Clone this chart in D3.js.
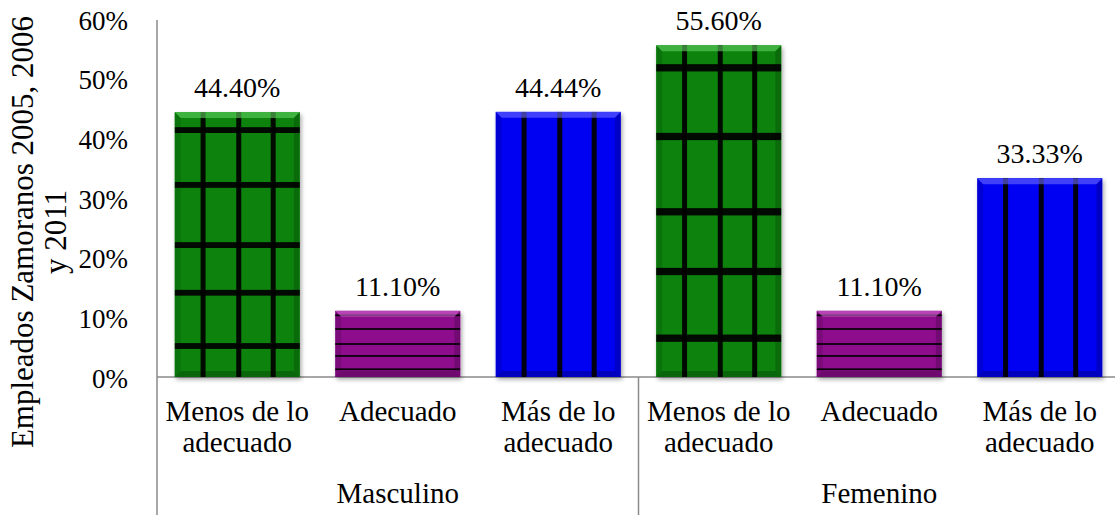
<!DOCTYPE html>
<html>
<head>
<meta charset="utf-8">
<script src="https://cdn.jsdelivr.net/npm/d3@7/dist/d3.min.js"></script>
<style>
  html, body { margin: 0; padding: 0; background: #ffffff; }
  svg { display: block; }
  svg text { fill: #000; }
</style>
</head>
<body>
<svg id="chart" width="1115" height="515"></svg>
<script>
// Employment satisfaction by gender (share of employees)
const groups = ["Masculino", "Femenino"];
const categories = ["Menos de lo adecuado", "Adecuado", "Más de lo adecuado"];
const categoryLines = [["Menos de lo", "adecuado"], ["Adecuado"], ["Más de lo", "adecuado"]];
const valuesMasculino = [0.444, 0.111, 0.4444];
const valuesFemenino = [0.556, 0.111, 0.3333];
const yTicks = [0, 0.1, 0.2, 0.3, 0.4, 0.5, 0.6];
const yTitleLines = ["Empleados Zamoranos 2005, 2006", "y 2011"];

const seriesByGroup = { "Masculino": valuesMasculino, "Femenino": valuesFemenino };
const serifFont = "Tinos, 'Liberation Serif', 'Nimbus Roman', 'Noto Serif', 'DejaVu Serif', 'Times New Roman', Times, serif";

// Bar styling per category: fill colour and which grid lines are drawn
const styles = [
  { fill: "#078307", light: "#5fd05f", vLines: true, hLines: true },
  { fill: "#8d0f8d", light: "#d468d4", vLines: false, hLines: true },
  { fill: "#0303f3", light: "#6a6aff", vLines: true, hLines: false }
];
// Relative placement of pattern lines inside a bar
const vLineFrac = [0.227, 0.512, 0.787];
const hLineFrac = [0.117, 0.318, 0.498, 0.725, 0.932];

const rows = [];
groups.forEach((g, gi) => {
  categories.forEach((c, ci) => {
    rows.push({ key: g + "|" + c, group: g, gi, cat: c, ci, value: seriesByGroup[g][ci] });
  });
});

const svg = d3.select("#chart").style("font-family", serifFont);
const left = 157, right = 1120, baseY = 377, topY = 19;

const x = d3.scaleBand()
  .domain(rows.map(d => d.key))
  .range([left, right])
  .paddingInner(0.22)
  .paddingOuter(0.11);

const y = d3.scaleLinear().domain([0, 0.6]).range([baseY, topY]);
const pct0 = d3.format(".0%");
const pct2 = d3.format(".2%");

// Defs: drop shadow and soft edges for pattern stripes
const defs = svg.append("defs");
const shadow = defs.append("filter").attr("id", "shadow")
  .attr("x", "-10%").attr("y", "-10%").attr("width", "120%").attr("height", "120%");
shadow.append("feDropShadow")
  .attr("dx", 1.5).attr("dy", 2.5).attr("stdDeviation", 2)
  .attr("flood-color", "#000").attr("flood-opacity", 0.35);
const soft = defs.append("filter").attr("id", "soft");
soft.append("feGaussianBlur").attr("stdDeviation", 0.6);

// Y axis
const yAxis = d3.axisLeft(y).tickValues(yTicks).tickFormat(pct0).tickSize(0).tickPadding(0);
const gy = svg.append("g").attr("transform", `translate(${left - 29},0)`).call(yAxis);
gy.attr("font-family", null);
gy.select(".domain").remove();
gy.selectAll("text")
  .style("font-family", serifFont)
  .attr("font-size", 27)
  .attr("dy", "0.38em")
  .attr("fill", "#000");

// Axis lines
const axisColor = "#8a8a8a";
svg.append("line").attr("x1", left).attr("x2", left).attr("y1", topY + 1).attr("y2", 515)
  .attr("stroke", axisColor).attr("stroke-width", 1.5);
svg.append("line").attr("x1", left).attr("x2", 1115).attr("y1", baseY).attr("y2", baseY)
  .attr("stroke", axisColor).attr("stroke-width", 1.5);
// Group separator between the two groups
const sepX = x(rows[3].key) - (x.step() - x.bandwidth()) / 2;
svg.append("line").attr("x1", sepX).attr("x2", sepX).attr("y1", baseY).attr("y2", 515)
  .attr("stroke", axisColor).attr("stroke-width", 1.5);

// Bars
const bars = svg.append("g").selectAll("g.bar").data(rows).join("g").attr("class", "bar");

bars.each(function(d) {
  const g = d3.select(this);
  const st = styles[d.ci];
  const bx = x(d.key), bw = x.bandwidth();
  const by = y(d.value), bh = baseY - by;
  const clipId = "clip-" + d.gi + "-" + d.ci;
  defs.append("clipPath").attr("id", clipId)
    .append("rect").attr("x", bx).attr("y", by).attr("width", bw).attr("height", bh);

  g.append("rect").attr("x", bx).attr("y", by).attr("width", bw).attr("height", bh)
    .attr("fill", st.fill).attr("filter", "url(#shadow)");

  const inner = g.append("g").attr("clip-path", `url(#${clipId})`);
  const lines = inner.append("g").attr("filter", "url(#soft)");
  if (st.hLines) {
    const th = Math.max(1.8, bh * 0.022);
    hLineFrac.forEach(f => {
      lines.append("rect").attr("x", bx).attr("width", bw)
        .attr("y", baseY - bh * f - th / 2).attr("height", th)
        .attr("fill", "#050505").attr("opacity", 0.92);
    });
  }
  if (st.vLines) {
    vLineFrac.forEach(f => {
      lines.append("rect").attr("x", bx + bw * f - 2.5).attr("width", 5)
        .attr("y", by).attr("height", bh)
        .attr("fill", "#050505").attr("opacity", 0.92);
    });
  }

  // Bevel facets
  const b = 6;
  const x0 = bx, x1 = bx + bw, y0 = by, y1 = baseY;
  inner.append("path")
    .attr("d", `M${x0},${y0}L${x1},${y0}L${x1 - b},${y0 + b}L${x0 + b},${y0 + b}Z`)
    .attr("fill", st.light).attr("opacity", 0.6);
  inner.append("path")
    .attr("d", `M${x0},${y1}L${x1},${y1}L${x1 - b},${y1 - b}L${x0 + b},${y1 - b}Z`)
    .attr("fill", "#000").attr("opacity", 0.22);
  inner.append("path")
    .attr("d", `M${x0},${y0}L${x0 + b},${y0 + b}L${x0 + b},${y1 - b}L${x0},${y1}Z`)
    .attr("fill", "#000").attr("opacity", 0.12);
  inner.append("path")
    .attr("d", `M${x1},${y0}L${x1 - b},${y0 + b}L${x1 - b},${y1 - b}L${x1},${y1}Z`)
    .attr("fill", "#000").attr("opacity", 0.18);

  // Value label
  g.append("text")
    .attr("x", bx + bw / 2).attr("y", by - 15)
    .attr("text-anchor", "middle")
    .style("font-family", serifFont)
    .attr("font-size", 28)
    .text(pct2(d.value));
});

// Category labels
const catG = svg.append("g");
rows.forEach(d => {
  const cx = x(d.key) + x.bandwidth() / 2;
  const t = catG.append("text").attr("text-anchor", "middle")
    .style("font-family", serifFont).attr("font-size", 29);
  categoryLines[d.ci].forEach((line, i) => {
    t.append("tspan").attr("x", cx).attr("y", 421 + i * 31).text(line);
  });
});

// Group labels
groups.forEach((g, gi) => {
  const a = x(rows[gi * 3].key), bEnd = x(rows[gi * 3 + 2].key) + x.bandwidth();
  svg.append("text").attr("x", (a + bEnd) / 2).attr("y", 503)
    .attr("text-anchor", "middle").style("font-family", serifFont)
    .attr("font-size", 29).text(g);
});

// Y axis title
const yt = svg.append("text")
  .attr("transform", "translate(0,232) rotate(-90)")
  .attr("text-anchor", "middle")
  .style("font-family", serifFont)
  .attr("font-size", 31);
yTitleLines.forEach((line, i) => {
  yt.append("tspan").attr("x", 0).attr("y", 33 + i * 33).text(line);
});
</script>
</body>
</html>
